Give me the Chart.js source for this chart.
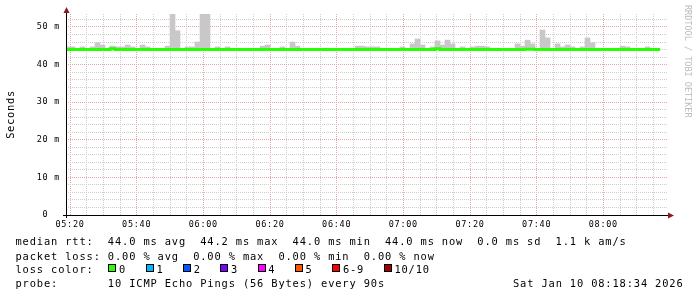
<!DOCTYPE html>
<html>
<head>
<meta charset="utf-8">
<script src="https://cdn.jsdelivr.net/npm/chart.js@4.4.1/dist/chart.umd.min.js"></script>
<style>
    body { margin: 0; background: #fff; }
    #wrap { position: relative; width: 697px; height: 297px; overflow: hidden; }
    #wrap canvas { position: absolute; left: 0; top: 0; }
    .txt {
        position: absolute;
        font-family: "DejaVu Sans Mono", monospace;
        font-size: 10.4px;
        letter-spacing: 0.85px;
        line-height: 14px;
        white-space: pre;
        color: #000;
    }
    .box { position: absolute; width: 6px; height: 6px; border: 1px solid #000; }
</style>
</head>
<body>
<div id="wrap">
    <canvas id="rtt" width="697" height="297"></canvas>
</div>
<script>
// x axis in minutes after 05:00, one RRD step = 90 s
const firstStepMin = 18.5;
const stepMin = 1.5;

const timeLabels = ['05:20', '05:40', '06:00', '06:20', '06:40', '07:00', '07:20', '07:40', '08:00'];
const yTickLabels = ['0  ', '10 m', '20 m', '30 m', '40 m', '50 m'];

// median rtt per step (ms)
const medianRtt = [
    44.0, 44.0, 44.0, 44.0, 44.0, 44.0, 44.0, 44.0, 44.0, 44.2,
    44.0, 44.0, 44.0, 44.0, 44.0, 44.0, 44.0, 44.0, 44.0, 44.0,
    44.0, 44.0, 44.0, 44.0, 44.0, 44.0, 44.0, 44.0, 44.0, 44.0,
    44.0, 44.0, 44.0, 44.0, 44.0, 44.0, 44.0, 44.0, 44.0, 44.0,
    44.0, 44.0, 44.0, 44.0, 44.0, 44.0, 44.0, 44.0, 44.0, 44.0,
    44.0, 44.0, 44.0, 44.0, 44.0, 44.0, 44.0, 44.0, 44.0, 44.0,
    44.0, 44.0, 44.0, 44.0, 44.0, 44.0, 44.0, 44.0, 44.0, 44.0,
    44.0, 44.0, 44.0, 44.0, 44.2, 44.0, 44.0, 44.0, 44.0, 44.0,
    44.0, 44.0, 44.0, 44.0, 44.0, 44.0, 44.0, 44.0, 44.0, 44.0,
    44.0, 44.0, 44.1, 44.1, 44.0, 44.0, 44.0, 44.0, 44.0, 44.0,
    44.0, 44.0, 44.0, 44.0, 44.0, 44.0, 44.0, 44.0, 44.0, 44.0,
    44.0, 44.0, 44.0, 44.0, 44.0, 44.0, 44.0, 44.0, 44.0,
];

// top of the smoke (max ping) per step (ms)
const smokeTop = [
    44.7, 44.7, 44.0, 44.7, 44.0, 44.7, 45.8, 45.2, 44.0, 44.9,
    44.7, 44.7, 45.2, 44.7, 44.0, 45.2, 44.7, 44.0, 44.0, 44.0,
    44.9, 53.6, 49.0, 44.0, 44.7, 44.7, 46.0, 53.6, 53.6, 44.0,
    44.7, 44.0, 44.7, 44.0, 44.0, 44.0, 44.0, 44.0, 44.0, 44.9,
    45.2, 44.0, 44.0, 44.7, 44.0, 46.0, 44.9, 44.0, 44.0, 44.0,
    44.0, 44.0, 44.0, 44.0, 44.0, 44.0, 44.0, 44.0, 44.9, 44.9,
    44.7, 44.7, 44.7, 44.0, 44.0, 44.0, 44.0, 44.7, 44.0, 45.5,
    46.8, 45.2, 44.0, 44.7, 46.3, 45.2, 46.5, 45.5, 44.0, 44.7,
    44.0, 44.7, 44.9, 44.9, 44.7, 44.0, 44.0, 44.0, 44.0, 44.0,
    45.5, 44.9, 46.5, 45.5, 44.0, 49.2, 47.1, 44.0, 45.5, 44.7,
    45.2, 44.7, 44.0, 44.7, 47.1, 45.8, 44.0, 44.0, 44.0, 44.0,
    44.0, 44.9, 44.7, 44.0, 44.0, 44.0, 44.7, 44.0, 44.0,
];

const lossLabels = ['0', '1', '2', '3', '4', '5', '6-9', '10/10'];
const lossColors = ['#26ff00', '#00b8ff', '#0059ff', '#7e00ff', '#ff00ff', '#ff5500', '#ff0000', '#a10000'];

const statLines = [
    'median rtt:  44.0 ms avg  44.2 ms max  44.0 ms min  44.0 ms now  0.0 ms sd  1.1 k am/s',
    'packet loss: 0.00 % avg  0.00 % max  0.00 % min  0.00 % now',
];
const probeLine = 'probe:       10 ICMP Echo Pings (56 Bytes) every 90s';
const stampLine = 'Sat Jan 10 08:18:34 2026';

const mono = 'DejaVu Sans Mono';
const gridMinor = '#cdcdcd';
const gridMajor = '#e9a6a6';

const xGridMinutes = [];
for (let m = 20; m <= 195; m += 5) xGridMinutes.push(m);
const yGridValues = [];
for (let v = 0; v <= 52; v += 2) yGridValues.push(v);

const stepTimes = medianRtt.map((_, i) => firstStepMin + i * stepMin);
const medianPoints = medianRtt.map((v, i) => ({ x: stepTimes[i], y: v }));
medianPoints.push({ x: firstStepMin + medianRtt.length * stepMin, y: medianRtt[medianRtt.length - 1] });
const smokeBars = smokeTop.map((v, i) => ({ x: stepTimes[i] + stepMin / 2, y: [medianRtt[i], v] }));

const fmtTime = (v) => {
    if ((v - 20) % 20 !== 0) return '';
    return timeLabels[(v - 20) / 20] ?? '';
};

const rrdDecor = {
    id: 'rrdDecor',
    beforeDraw(chart) {
        chart.ctx.letterSpacing = '0.7px';
    },
    afterDraw(chart) {
        const { ctx, chartArea: a } = chart;
        ctx.save();
        ctx.strokeStyle = '#000';
        ctx.lineWidth = 1;
        ctx.beginPath();
        ctx.moveTo(a.left + 0.5, a.bottom + 3);
        ctx.lineTo(a.left + 0.5, a.top - 3);
        ctx.moveTo(a.left - 3, a.bottom + 0.5);
        ctx.lineTo(a.right + 1, a.bottom + 0.5);
        ctx.stroke();

        ctx.fillStyle = '#8b1a1a';
        ctx.beginPath();
        ctx.moveTo(a.left - 2.5, a.top - 1);
        ctx.lineTo(a.left + 3.5, a.top - 1);
        ctx.lineTo(a.left + 0.5, a.top - 7);
        ctx.closePath();
        ctx.fill();
        ctx.beginPath();
        ctx.moveTo(a.right, a.bottom - 2.5);
        ctx.lineTo(a.right, a.bottom + 3.5);
        ctx.lineTo(a.right + 6, a.bottom + 0.5);
        ctx.closePath();
        ctx.fill();

        ctx.translate(687.5, 5);
        ctx.rotate(Math.PI / 2);
        ctx.letterSpacing = '0px';
        ctx.font = `8.5px "${mono}"`;
        ctx.fillStyle = '#bcbcbc';
        ctx.textBaseline = 'middle';
        ctx.fillText('RRDTOOL / TOBI OETIKER', 0, 0);
        ctx.restore();
    },
};

new Chart(document.getElementById('rtt'), {
    type: 'bar',
    data: {
        datasets: [
            {
                type: 'line',
                data: medianPoints,
                borderColor: '#26ff00',
                borderWidth: 3,
                pointRadius: 0,
                stepped: 'before',
                fill: false,
                clip: 0,
                order: 0,
            },
            {
                type: 'bar',
                data: smokeBars,
                backgroundColor: '#c8c8c8',
                borderWidth: 0,
                barPercentage: 1,
                categoryPercentage: 1,
                clip: 0,
                order: 1,
            },
        ],
    },
    options: {
        responsive: false,
        animation: false,
        layout: { padding: { left: 0, right: 29, top: 14, bottom: 0 } },
        plugins: {
            legend: { display: false },
            tooltip: { enabled: false },
        },
        scales: {
            x: {
                type: 'linear',
                min: 18.8,
                max: 199.4,
                offset: false,
                grid: {
                    offset: false,
                    drawTicks: false,
                    lineWidth: 1,
                    color: (c) => (c.index % 4 === 0 ? gridMajor : gridMinor),
                },
                border: { display: false, dash: [1, 1] },
                ticks: {
                    autoSkip: false,
                    maxRotation: 0,
                    padding: 5,
                    color: '#000',
                    font: { family: mono, size: 8.5 },
                    callback: (v) => fmtTime(v),
                },
                afterBuildTicks: (scale) => {
                    scale.ticks = xGridMinutes.map((m) => ({ value: m }));
                },
                afterFit: (scale) => {
                    scale.height = 82;
                },
            },
            y: {
                min: 0,
                max: 53.45,
                grid: {
                    drawTicks: false,
                    lineWidth: 1,
                    color: (c) => (c.index % 5 === 0 ? gridMajor : gridMinor),
                },
                border: { display: false, dash: [1, 1] },
                title: {
                    display: true,
                    text: 'Seconds',
                    color: '#000',
                    font: { family: mono, size: 10.4 },
                    padding: { top: 5, bottom: 0 },
                },
                ticks: {
                    autoSkip: false,
                    padding: 6,
                    color: '#000',
                    font: { family: mono, size: 8.5 },
                    callback: (v) => (v % 10 === 0 ? yTickLabels[v / 10] : ''),
                },
                afterBuildTicks: (scale) => {
                    scale.ticks = yGridValues.map((v) => ({ value: v }));
                },
                afterFit: (scale) => {
                    scale.width = 66;
                },
            },
        },
    },
    plugins: [rrdDecor],
});

// text legend under the graph, rrdtool style
const wrap = document.getElementById('wrap');
const addText = (text, left, top) => {
    const el = document.createElement('div');
    el.className = 'txt';
    el.textContent = text;
    el.style.left = left + 'px';
    el.style.top = top + 'px';
    wrap.appendChild(el);
};

const rowTops = [234.4, 248.7, 262.1, 276.1];
statLines.forEach((line, i) => addText(line, 15.5, rowTops[i]));
addText('loss color:', 15.5, rowTops[2]);

let boxX = 108.3;
lossLabels.forEach((label, i) => {
    const box = document.createElement('div');
    box.className = 'box';
    box.style.left = boxX + 'px';
    box.style.top = '263.5px';
    box.style.background = lossColors[i];
    wrap.appendChild(box);
    addText(label, boxX + 10.8, rowTops[2]);
    boxX += 37.3 + 7.11 * (label.length - 1);
});

addText(probeLine, 15.5, rowTops[3]);
addText(stampLine, 513, rowTops[3]);
</script>
</body>
</html>
